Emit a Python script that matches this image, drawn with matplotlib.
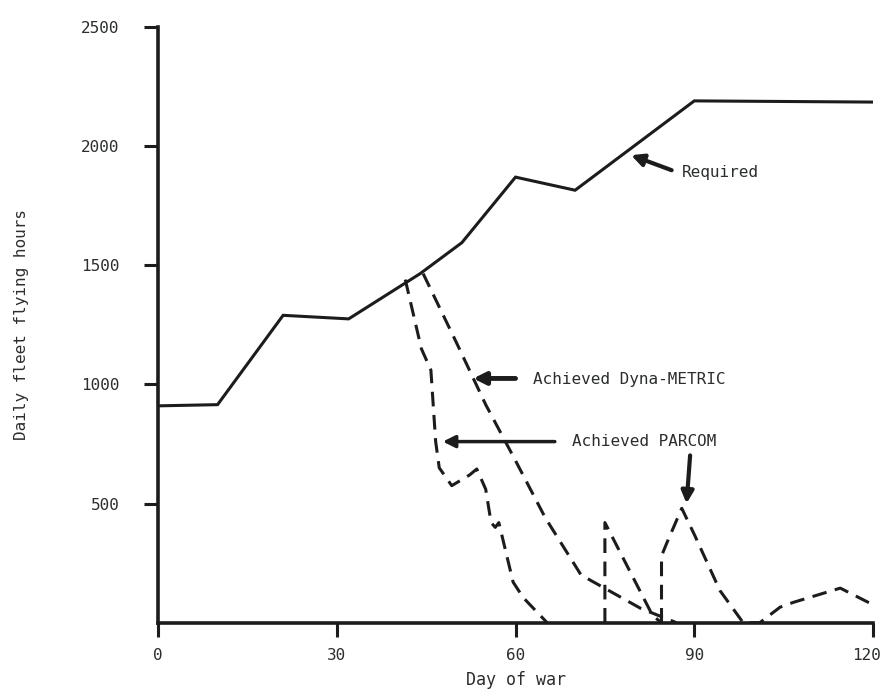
import numpy as np
import matplotlib
matplotlib.use('Agg')
import matplotlib.pyplot as plt
import matplotlib.transforms as mtransforms

# Required daily fleet flying hours
req_days = [0, 10, 21, 32, 44, 51, 60, 70, 90, 120]
req_hours = [910, 915, 1290, 1275, 1465, 1595, 1870, 1815, 2190, 2185]

# Achieved Dyna-METRIC
dyna_days = [44.5, 50, 55, 60, 65, 71, 81, 87]
dyna_hours = [1465, 1180, 915, 680, 440, 200, 60, 0]

# Achieved PARCOM (three separate pieces)
parcom_days_a = [41.5, 44.2, 45.8, 46.6, 47.2, 49.3, 52.3, 53.5, 55.0, 55.9, 56.6, 57.2, 59.6, 61.3, 65.3]
parcom_hours_a = [1440, 1150, 1060, 760, 650, 575, 620, 645, 560, 420, 400, 420, 170, 105, 0]
parcom_days_b = [75, 75, 83, 84.5]
parcom_hours_b = [0, 420, 30, 0]
parcom_days_c = [84.5, 84.5, 85.4, 87.9, 90.1, 94.3, 98.2, 101, 104.4, 106.6, 114.5, 120]
parcom_hours_c = [0, 280, 335, 480, 365, 135, 0, 0, 65, 85, 145, 75]

x_ticks = [0, 30, 60, 90, 120]
y_ticks = [500, 1000, 1500, 2000, 2500]

ink = '#1c1c1c'
txt = '#2b2f2b'
mono = 'DejaVu Sans Mono'

fig = plt.figure(figsize=(8.85, 6.93), dpi=100)
ax = fig.add_axes([0.1785, 0.1015, 0.808, 0.8595])

ax.plot(req_days, req_hours, color=ink, lw=2.2, solid_joinstyle='miter')
ax.plot(dyna_days, dyna_hours, color=ink, lw=2.2, dashes=(4.8, 2.8))
for d, h in [(parcom_days_a, parcom_hours_a), (parcom_days_b, parcom_hours_b),
             (parcom_days_c, parcom_hours_c)]:
    ax.plot(d, h, color=ink, lw=2.2, dashes=(4.8, 2.8))

ax.set_xlim(0, 120)
ax.set_ylim(0, 2500)
ax.set_xticks(x_ticks)
ax.set_yticks(y_ticks)
ax.set_xticklabels([str(v) for v in x_ticks], family=mono, fontsize=11.5, color=txt)
ax.set_yticklabels([str(v) for v in y_ticks], family=mono, fontsize=11.5, color=txt)
ax.tick_params(axis='both', direction='out', length=10, width=2.2, color=ink)
ax.tick_params(axis='x', pad=8)
ax.tick_params(axis='y', pad=17.5)

# keep the last x label inside the figure
last = ax.get_xticklabels()[-1]
last.set_transform(last.get_transform() + mtransforms.ScaledTranslation(-5 / 72, 0, fig.dpi_scale_trans))

for s in ['top', 'right']:
    ax.spines[s].set_visible(False)
for s in ['left', 'bottom']:
    ax.spines[s].set_linewidth(2.6)
    ax.spines[s].set_color(ink)

ax.set_xlabel('Day of war', family=mono, fontsize=12, color=txt, labelpad=6)
ax.set_ylabel('Daily fleet flying hours', family=mono, fontsize=11.5, color=txt, labelpad=38)

# annotations
ax.annotate('', xy=(79.4, 1962), xytext=(86.2, 1899),
            arrowprops=dict(arrowstyle='-|>', lw=3, color=ink, mutation_scale=18, shrinkA=0, shrinkB=0))
ax.text(88, 1890, 'Required', family=mono, fontsize=11.5, color=txt, va='center')

ax.annotate('', xy=(52.9, 1025), xytext=(60, 1025),
            arrowprops=dict(arrowstyle='-|>', lw=3.5, color=ink, mutation_scale=18, shrinkA=0, shrinkB=0))
ax.text(62.9, 1020, 'Achieved Dyna-METRIC', family=mono, fontsize=11.5, color=txt, va='center')

ax.annotate('', xy=(47.8, 760), xytext=(66.6, 760),
            arrowprops=dict(arrowstyle='-|>', lw=2.5, color=ink, mutation_scale=18, shrinkA=0, shrinkB=0))
ax.text(69.5, 760, 'Achieved PARCOM', family=mono, fontsize=11.5, color=txt, va='center')

ax.annotate('', xy=(88.7, 500), xytext=(89.3, 702),
            arrowprops=dict(arrowstyle='-|>', lw=3, color=ink, mutation_scale=18, shrinkA=0, shrinkB=0))

fig.savefig('out.png', dpi=100)
